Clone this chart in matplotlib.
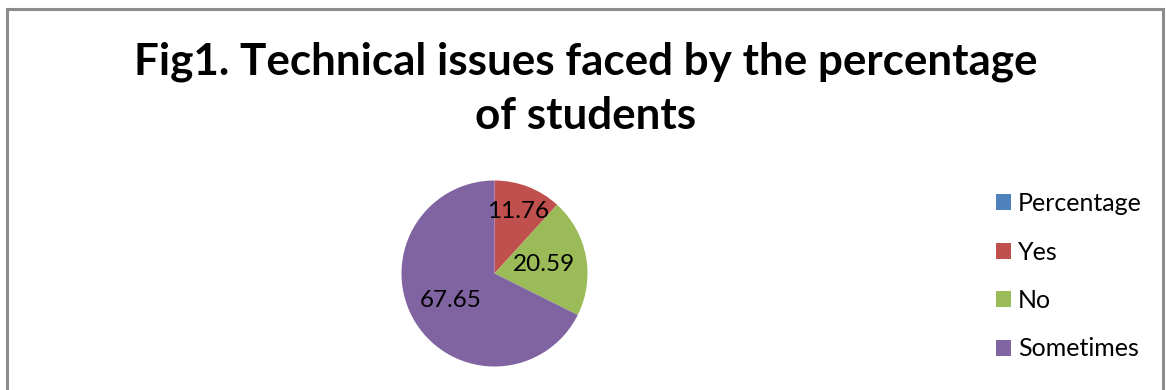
import matplotlib
matplotlib.use("Agg")
import matplotlib.pyplot as plt
from matplotlib.lines import Line2D
from matplotlib.patches import Patch
import numpy as np

# ---- data ----
categories = ["Percentage", "Yes", "No", "Sometimes"]
values = [0.0, 11.76, 20.59, 67.65]
colors = ["#4F81BD", "#C0504D", "#9BBB59", "#8064A2"]
title_lines = ["Fig1. Technical issues faced by the percentage", "of students"]

plt.rcParams['font.family'] = ['Lato', 'DejaVu Sans']

W, H = 1166, 390
fig = plt.figure(figsize=(W / 100, H / 100), dpi=100)

def fx(px):
    return px / W

def fy(py):
    return 1 - py / H

# outer chart border (left, top, right)
fig.add_artist(Line2D([fx(7), fx(7), fx(1163), fx(1163)],
                      [fy(400), fy(9), fy(9), fy(400)],
                      color="#8C8C8C", lw=2.2, transform=fig.transFigure,
                      solid_joinstyle="miter"))

# title (two centered lines)
t1 = fig.text(fx(586), fy(75), title_lines[0], ha="center", va="baseline",
              fontsize=30, fontweight="bold", color="black")
t2 = fig.text(fx(586), fy(129), title_lines[1], ha="center", va="baseline",
              fontsize=30, fontweight="bold", color="black")
fig.canvas.draw()
r = fig.canvas.get_renderer()
w1 = t1.get_window_extent(r).width
scale = 902.0 / w1
t1.set_fontsize(30 * scale)
t2.set_fontsize(30 * scale)

# pie
cx, cy, rad = 494.5, 273.5, 93
ax = fig.add_axes([fx(cx - rad), fy(cy + rad), 2 * rad / W, 2 * rad / H])
wedges, _ = ax.pie(values, colors=colors, startangle=90, counterclock=False,
                   radius=1.0, wedgeprops=dict(linewidth=0))
ax.set_xlim(-1, 1)
ax.set_ylim(-1, 1)
ax.set_aspect("auto")
ax.axis("off")

label_dist = [0.0, 0.71, 0.54, 0.55]
for w, v, d in zip(wedges, values, label_dist):
    if v <= 0:
        continue
    ang = np.deg2rad((w.theta1 + w.theta2) / 2)
    ax.text(d * np.cos(ang), d * np.sin(ang), f"{v:.2f}", ha="center", va="center",
            fontsize=17.5, color="black")

# legend
handles = [Patch(facecolor=c, edgecolor="none") for c in colors]
fig.legend(handles, categories, loc="upper left",
           bbox_to_anchor=(fx(996), fy(192)), bbox_transform=fig.transFigure,
           frameon=False, fontsize=18, borderpad=0, borderaxespad=0,
           handlelength=0.6, handleheight=0.6, handletextpad=0.28,
           labelspacing=1.02)

fig.savefig("out.png", dpi=100, facecolor="white")
